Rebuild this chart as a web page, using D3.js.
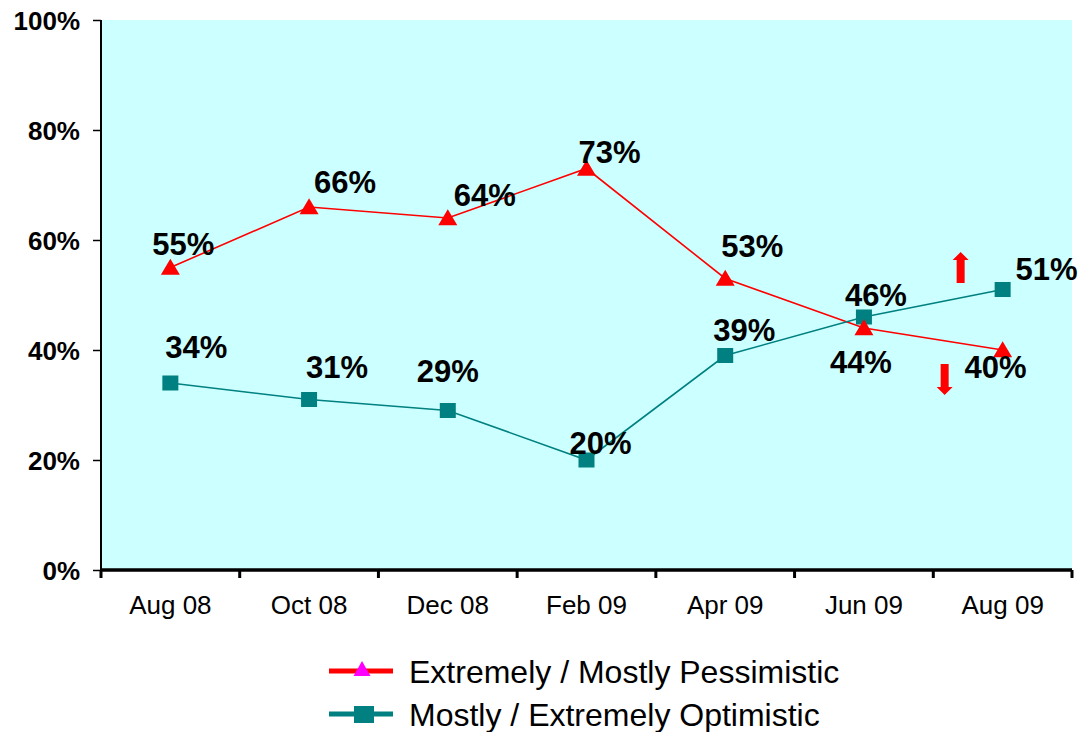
<!DOCTYPE html>
<html>
<head>
<meta charset="utf-8">
<script src="https://cdn.jsdelivr.net/npm/d3@7"></script>
<style>
  html, body { margin: 0; padding: 0; background: #ffffff; }
  svg { display: block; font-family: "Liberation Sans", Arial, sans-serif; }
</style>
</head>
<body>
<svg id="chart" width="1081" height="732"></svg>
<script>
// ---- data ----
const categories = ["Aug 08", "Oct 08", "Dec 08", "Feb 09", "Apr 09", "Jun 09", "Aug 09"];
const pessimistic = [55, 66, 64, 73, 53, 44, 40];
const optimistic  = [34, 31, 29, 20, 39, 46, 51];
const seriesNames = ["Extremely / Mostly Pessimistic", "Mostly / Extremely Optimistic"];
const yTicks = [0, 20, 40, 60, 80, 100];

// ---- label placement (layout, px offsets from the point) ----
const pessLabelOffsets = [[13, -24], [36, -25], [37, -23], [23, -17], [27, -33], [-3, 34], [-7, 17]];
const optLabelOffsets  = [[26, -36], [28, -33], [0, -40], [14, -17], [19, -26], [12, -22], [44, -21]];

const svg = d3.select("#chart");
const plot = { left: 101, top: 20, right: 1072, bottom: 570 };

const x = d3.scaleBand().domain(categories).range([plot.left, plot.right]).padding(0);
const y = d3.scaleLinear().domain([0, 100]).range([plot.bottom, plot.top]);
const cx = d => x(d) + x.bandwidth() / 2;

const RED = "#ff0000", TEAL = "#008080", BG = "#ccffff";

// background
svg.append("rect")
  .attr("x", plot.left).attr("y", plot.top)
  .attr("width", plot.right - plot.left).attr("height", plot.bottom - plot.top)
  .attr("fill", BG);

// y axis
const YFS = 26;
const yAxis = d3.axisLeft(y).tickValues(yTicks).tickFormat(d => d + "%").tickSize(8).tickPadding(13);
const gy = svg.append("g").attr("transform", `translate(${plot.left},0)`).call(yAxis);
gy.select(".domain").attr("stroke", "#000").attr("stroke-width", 2).attr("d", `M0,${plot.top}V${plot.bottom}`);
gy.selectAll(".tick line").attr("stroke", "#000").attr("stroke-width", 1.5);
gy.selectAll(".tick text")
  .attr("font-family", "Liberation Sans, Arial, sans-serif")
  .attr("font-size", YFS).attr("font-weight", "bold").attr("fill", "#000")
  .attr("dy", null).attr("y", 0.36 * YFS);

// x axis (ticks on band boundaries)
const gx = svg.append("g").attr("transform", `translate(0,${plot.bottom})`);
gx.append("line").attr("x1", plot.left).attr("x2", plot.right).attr("y1", 0).attr("y2", 0)
  .attr("stroke", "#000").attr("stroke-width", 3.5);
const boundaries = categories.map(c => x(c)).concat([plot.right]);
gx.selectAll("line.tk").data(boundaries).enter().append("line").attr("class", "tk")
  .attr("x1", d => d).attr("x2", d => d).attr("y1", 0).attr("y2", 8)
  .attr("stroke", "#000").attr("stroke-width", 3);
gx.selectAll("text").data(categories).enter().append("text")
  .attr("x", d => cx(d)).attr("y", 44)
  .attr("text-anchor", "middle").attr("font-size", 26).attr("fill", "#000")
  .text(d => d);

// lines
const line = d3.line().x((d, i) => cx(categories[i])).y(d => y(d));
svg.append("path").datum(pessimistic).attr("d", line).attr("fill", "none").attr("stroke", RED).attr("stroke-width", 1.6);
svg.append("path").datum(optimistic).attr("d", line).attr("fill", "none").attr("stroke", TEAL).attr("stroke-width", 1.6);

// markers
const tri = (px, py, w, h) => `M${px},${py - h * 0.55}L${px + w / 2},${py + h * 0.45}L${px - w / 2},${py + h * 0.45}Z`;
svg.selectAll("rect.opt").data(optimistic).enter().append("rect").attr("class", "opt")
  .attr("x", (d, i) => cx(categories[i]) - 8).attr("y", d => y(d) - 7.5)
  .attr("width", 16).attr("height", 15).attr("fill", TEAL);
svg.selectAll("path.pess").data(pessimistic).enter().append("path").attr("class", "pess")
  .attr("d", (d, i) => tri(cx(categories[i]), y(d), 19, 16)).attr("fill", RED);

// data labels
const LFS = 31;
function addLabels(vals, offs) {
  svg.append("g").selectAll("text").data(vals).enter().append("text")
    .attr("x", (d, i) => cx(categories[i]) + offs[i][0])
    .attr("y", (d, i) => y(d) + offs[i][1] + 0.36 * LFS)
    .attr("text-anchor", "middle").attr("font-size", LFS).attr("font-weight", "bold").attr("fill", "#000")
    .text(d => d + "%");
}
addLabels(pessimistic, pessLabelOffsets);
addLabels(optimistic, optLabelOffsets);

// trend arrows (annotation near last point)
function arrow(xc, yTop, yBot, up) {
  const sw = 4, hw = 8, hh = 8;
  let p;
  if (up) {
    p = `M${xc},${yTop}L${xc + hw},${yTop + hh}L${xc + sw},${yTop + hh}L${xc + sw},${yBot}L${xc - sw},${yBot}L${xc - sw},${yTop + hh}L${xc - hw},${yTop + hh}Z`;
  } else {
    p = `M${xc},${yBot}L${xc + hw},${yBot - hh}L${xc + sw},${yBot - hh}L${xc + sw},${yTop}L${xc - sw},${yTop}L${xc - sw},${yBot - hh}L${xc - hw},${yBot - hh}Z`;
  }
  svg.append("path").attr("d", p).attr("fill", RED);
}
const lastX = cx(categories[categories.length - 1]);
arrow(lastX - 42, 252, 283, true);
arrow(lastX - 58, 364, 395, false);

// legend
const LEGFS = 32;
const leg = svg.append("g");
const legRows = [
  { name: seriesNames[0], color: RED, marker: "tri", y: 671 },
  { name: seriesNames[1], color: TEAL, marker: "sq", y: 714 }
];
legRows.forEach(r => {
  leg.append("line").attr("x1", 329).attr("x2", 393).attr("y1", r.y).attr("y2", r.y)
    .attr("stroke", r.color).attr("stroke-width", 5);
  if (r.marker === "tri") {
    leg.append("path").attr("d", `M362,${r.y - 10}L370.5,${r.y + 5}L353.5,${r.y + 5}Z`).attr("fill", "#ff00ff");
  } else {
    leg.append("rect").attr("x", 354).attr("y", r.y - 8).attr("width", 20).attr("height", 17).attr("fill", TEAL);
  }
  leg.append("text").attr("x", 409).attr("y", r.y + 0.36 * LEGFS).attr("font-size", LEGFS).attr("fill", "#000").text(r.name);
});
</script>
</body>
</html>
